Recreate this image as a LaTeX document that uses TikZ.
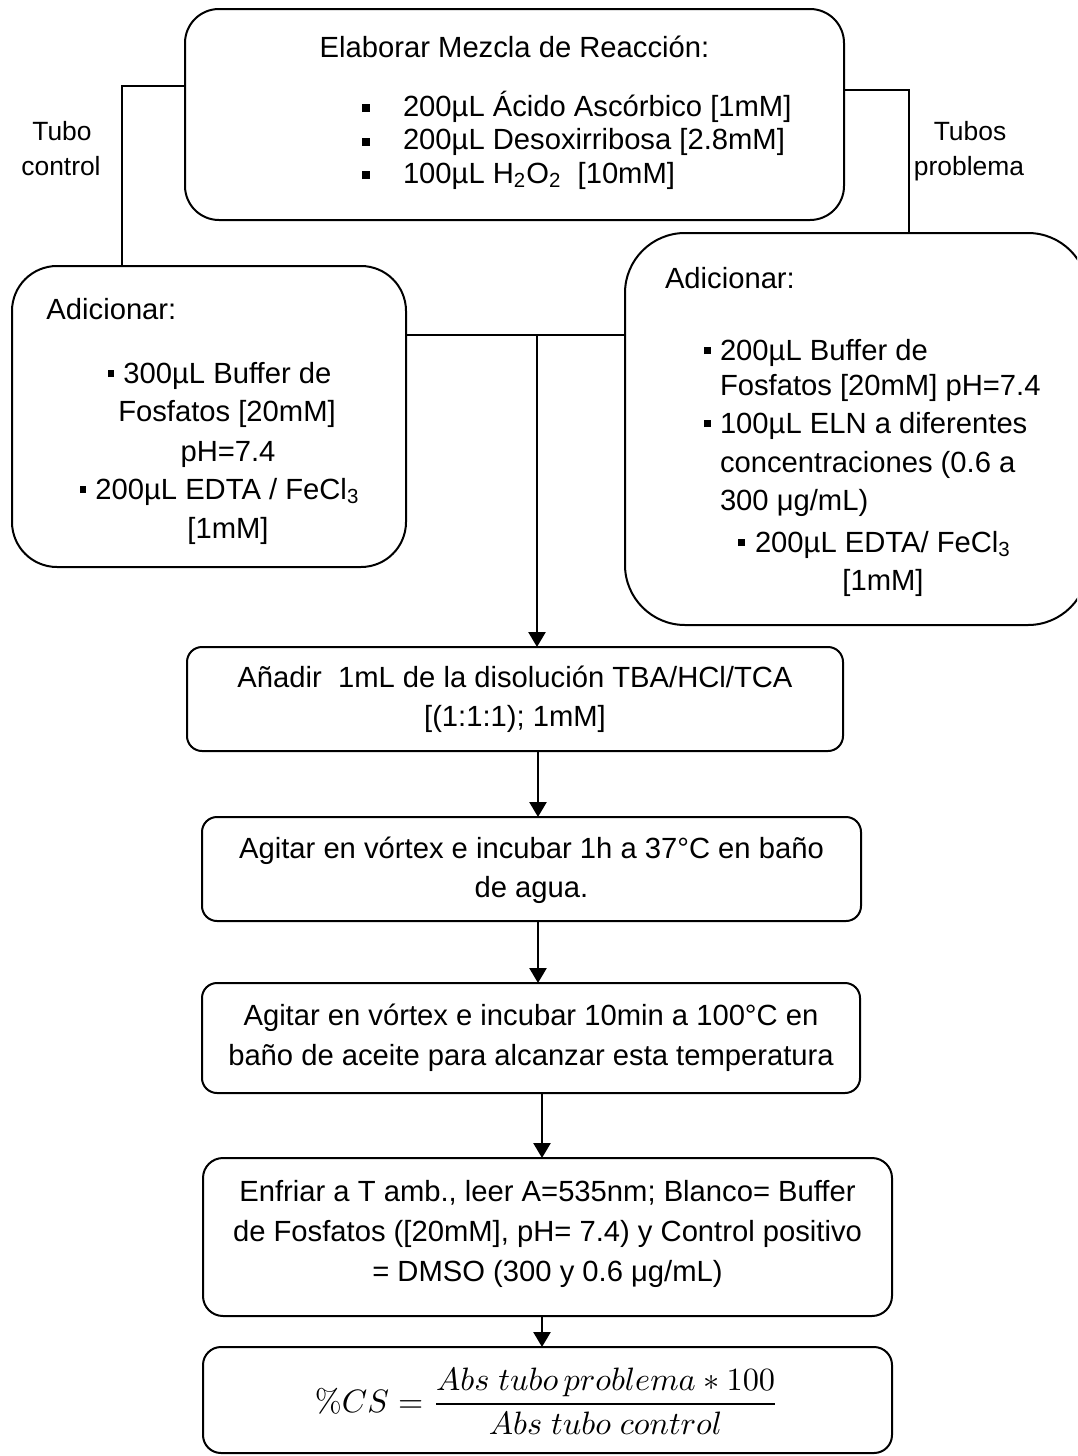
\documentclass[tikz,border=0pt]{standalone}
\usepackage[no-math]{fontspec}
\usepackage{graphicx}
\setmainfont{Liberation Sans}
\usetikzlibrary{arrows.meta}

% type sizes: body text and the two branch labels
\newcommand\bodyfont{\fontsize{14.6pt}{19.4pt}\selectfont}
\newcommand\labelfont{\fontsize{13.2pt}{17.5pt}\selectfont}
% square list markers
\newcommand\sqbig{\rule[2pt]{3.8pt}{3.8pt}}
\newcommand\sqsmall{\rule[3pt]{3.4pt}{3.4pt}}

\tikzset{
  stage/.style={draw, line width=1pt, rectangle, inner sep=0pt, outer sep=0pt},
  txt/.style={inner sep=0pt, outer sep=0pt, font=\bodyfont},
  lbl/.style={inner sep=0pt, outer sep=0pt, font=\labelfont},
  link/.style={line width=1pt},
  flow/.style={line width=1.3pt, -{Triangle[length=7.5pt,width=8.5pt]}},
}

\begin{document}
\begin{tikzpicture}[x=0.5pt, y=-0.5pt]
\useasboundingbox (0,0) rectangle (1077,1456);
\fill[white] (0,0) rectangle (1077,1456);
\clip (0,0) rectangle (1077,1456);

% ---- reaction mixture ----
\node[stage, rounded corners=17pt, minimum width=329.5pt, minimum height=105.5pt] (mix) at (514.5,114.5) {};
\node[txt, anchor=base] (mixT) at (514.5,57) {Elaborar Mezcla de Reacción:};
\node[txt, anchor=base west] (mix1) at (362,116) {\makebox[20.5pt][l]{\sqbig}200µL Ácido Ascórbico [1mM]};
\node[txt, anchor=base west] (mix2) at (362,149.5) {\makebox[20.5pt][l]{\sqbig}200µL Desoxirribosa [2.8mM]};
\node[txt, anchor=base west] (mix3) at (362,183) {\makebox[20.5pt][l]{\sqbig}100µL H\textsubscript{2}O\textsubscript{2}\ \ [10mM]};

% ---- branch labels ----
\node[lbl, anchor=base] (ctlA) at (62,140) {Tubo};
\node[lbl, anchor=base] (ctlB) at (61,175) {control};
\node[lbl, anchor=base] (prbA) at (970,140) {Tubos};
\node[lbl, anchor=base] (prbB) at (969,175) {problema};

% ---- control tube ----
\node[stage, rounded corners=22.5pt, minimum width=197pt, minimum height=150.5pt] (ctl) at (209,416.5) {};
\node[txt, anchor=base west] (ctl0) at (46.5,319) {Adicionar:};
\node[txt, anchor=base] (ctl1) at (219.5,383) {\sqsmall\hspace{4.5pt}300µL Buffer de};
\node[txt, anchor=base] (ctl2) at (227,421) {Fosfatos [20mM]};
\node[txt, anchor=base] (ctl3) at (228,461) {pH=7.4};
\node[txt, anchor=base] (ctl4) at (219.5,499) {\sqsmall\hspace{4.5pt}200µL EDTA / FeCl\textsubscript{3}};
\node[txt, anchor=base] (ctl5) at (228,538) {[1mM]};

% ---- sample tubes ----
\node[stage, rounded corners=30pt, minimum width=231.5pt, minimum height=196pt] (prb) at (856.5,429) {};
\node[txt, anchor=base west] (prb0) at (665,288) {Adicionar:};
\node[txt, anchor=base west] (prb1) at (704,360) {\makebox[8pt][l]{\sqsmall}200µL Buffer de};
\node[txt, anchor=base west] (prb2) at (720,395) {Fosfatos [20mM] pH=7.4};
\node[txt, anchor=base west] (prb3) at (704,433) {\makebox[8pt][l]{\sqsmall}100µL ELN a diferentes};
\node[txt, anchor=base west] (prb4) at (720,472) {concentraciones (0.6 a};
\node[txt, anchor=base west] (prb5) at (720,510) {300 μg/mL)};
\node[txt, anchor=base west] (prb6) at (738,552) {\makebox[8.5pt][l]{\sqsmall}200µL EDTA/ FeCl\textsubscript{3}};
\node[txt, anchor=base] (prb7) at (883,590) {[1mM]};

% ---- sequential steps ----
\node[stage, rounded corners=7.5pt, minimum width=328pt, minimum height=52pt] (add) at (515,699) {};
\node[txt, anchor=base] (add1) at (515,687) {Añadir\ \ 1mL de la disolución TBA/HCl/TCA};
\node[txt, anchor=base] (add2) at (515,726) {[(1:1:1); 1mM]};

\node[stage, rounded corners=7.5pt, minimum width=329.5pt, minimum height=52pt] (warm) at (531.5,869) {};
\node[txt, anchor=base] (warm1) at (531.5,858) {Agitar en vórtex e incubar 1h a 37°C en baño};
\node[txt, anchor=base] (warm2) at (531.5,897) {de agua.};

\node[stage, rounded corners=7.5pt, minimum width=329pt, minimum height=55pt] (heat) at (531,1038) {};
\node[txt, anchor=base] (heat1) at (531,1025) {Agitar en vórtex e incubar 10min a 100°C en};
\node[txt, anchor=base] (heat2) at (531,1065) {baño de aceite para alcanzar esta temperatura};

\node[stage, rounded corners=10pt, minimum width=344.5pt, minimum height=79pt] (read) at (547.5,1237) {};
\node[txt, anchor=base] (read1) at (547.5,1201) {Enfriar a T amb., leer A=535nm; Blanco= Buffer};
\node[txt, anchor=base] (read2) at (547.5,1241) {de Fosfatos ([20mM], pH= 7.4) y Control positivo};
\node[txt, anchor=base] (read3) at (547.5,1281) {= DMSO (300 y 0.6 μg/mL)};

\node[stage, rounded corners=9pt, minimum width=344.5pt, minimum height=53pt] (calc) at (547.5,1400) {};
\node[inner sep=0pt] (calcF) at (547,1401) {\resizebox{232pt}{!}{$\displaystyle\%CS=\frac{Abs\ tubo\,problema*100}{Abs\ tubo\ control}$}};

% ---- connectors ----
\coordinate (cl) at (122,86);
\draw[link] (mix.west |- cl) -- (cl) -- (cl |- ctl.north);
\coordinate (cr) at (909,90);
\draw[link] (mix.east |- cr) -- (cr) -- (cr |- prb.north);

\coordinate (jn) at (537,335);
\draw[link, line width=1.3pt] (ctl.east |- jn) -- (prb.west |- jn);
\draw[flow] (jn) -- (jn |- add.north);

\coordinate (ax) at (538,0);
\coordinate (bx) at (542,0);
\draw[flow] (add.south -| ax) -- (warm.north -| ax);
\draw[flow] (warm.south -| ax) -- (heat.north -| ax);
\draw[flow] (heat.south -| bx) -- (read.north -| bx);
\draw[flow] (read.south -| bx) -- (calc.north -| bx);
\end{tikzpicture}
\end{document}
